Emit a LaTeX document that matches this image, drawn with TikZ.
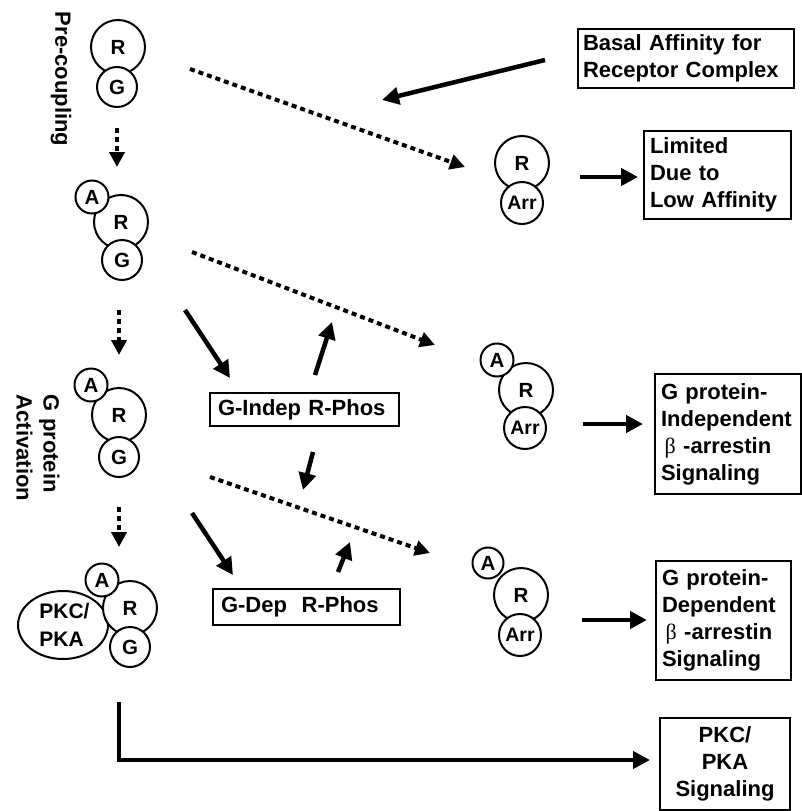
\documentclass[tikz,border=0pt]{standalone}
\usepackage{fontspec}
\setmainfont{Liberation Sans}
\newfontfamily\betafont{Liberation Serif}
\usetikzlibrary{arrows.meta,shapes.geometric}
\begin{document}
\begin{tikzpicture}[x=1pt,y=-1pt,
  bigfont/.style={font=\fontsize{22}{27}\selectfont\bfseries},
  circ/.style={circle,draw,line width=2pt,fill=white,inner sep=0pt,font=\fontsize{20.5}{22}\selectfont\bfseries},
  Rc/.style={circ,minimum size=54pt},
  Ac/.style={circ,minimum size=33pt},
  Gc/.style={circ,minimum size=40pt},
  Arrc/.style={circ,minimum size=42pt,font=\fontsize{19.5}{22}\selectfont\bfseries},
  lbox/.style={draw,line width=2pt,rectangle,bigfont,align=left,inner ysep=0pt,anchor=north west},
  sarrow/.style={line width=4.5pt,-{Triangle[length=17pt,width=17pt]}},
  darrow/.style={line width=4pt,dash pattern=on 5pt off 4pt,-{Triangle[length=15pt,width=15pt]}}
]
\useasboundingbox (0,0) rectangle (802,811);

% rotated labels
\node[bigfont,rotate=-90] (pre) at (61,79) {Pre-coupling};
\node[bigfont,rotate=-90,align=left] (gact) at (38,448) {G protein\\Activation};

% complex 1
\node[Rc] (r1) at (118,47) {R};
\node[Gc] (g1) at (117,87) {G};
% complex 2
\node[Rc] (r2) at (121,222) {R};
\node[Ac] (a2) at (92,197) {A};
\node[Gc] (g2) at (122,260) {G};
% complex 3
\node[Rc] (r3) at (119,415) {R};
\node[Ac] (a3) at (91,385) {A};
\node[Gc] (g3) at (119,457) {G};
% complex 4
\node[ellipse,draw,line width=2pt,fill=white,minimum width=90pt,minimum height=68pt,inner sep=0pt,align=left,font=\fontsize{21}{28}\selectfont\bfseries] (pkc) at (63,625) {\hspace*{3pt}PKC/\\\hspace*{3pt}PKA};
\node[Rc] (r4) at (130,608) {R};
\node[Ac] (a4) at (102,580) {A};
\node[Gc] (g4) at (130,647) {G};

% arrestin complexes
\node[Rc] (rb1) at (522,163) {R};
\node[Arrc] (arr1) at (522,203) {Arr};
\node[Rc] (rb2) at (526,390) {R};
\node[Ac] (ab2) at (497,360) {A};
\node[Arrc] (arr2) at (525,428) {Arr};
\node[Rc] (rb3) at (521,595) {R};
\node[Ac,minimum size=31pt] (ab3) at (488,563) {A};
\node[Arrc] (arr3) at (520,635) {Arr};

% boxes
\node[lbox,minimum width=216pt,minimum height=59pt,text width=206pt,inner xsep=5pt] (basal) at (577,28) {Basal Affinity for\\Receptor Complex};
\node[lbox,minimum width=147pt,minimum height=88pt,text width=135pt,inner xsep=6pt] (lim) at (643,130) {Limited\\Due to\\Low Affinity};
\node[lbox,minimum width=189pt,minimum height=33pt,text width=173pt,inner xsep=8pt] (gind) at (209,392) {G-Indep R-Phos};
\node[lbox,minimum width=187pt,minimum height=36pt,text width=171pt,inner xsep=8pt] (gdep) at (212,588) {G-Dep\ \ R-Phos};
\node[lbox,minimum width=146pt,minimum height=120pt,text width=134pt,inner xsep=6pt] (gpi) at (654,373) {G protein-\\Independent\\{\mdseries\betafont\,β} -arrestin\\Signaling};
\node[lbox,minimum width=135pt,minimum height=119pt,text width=123pt,inner xsep=6pt] (gpd) at (655,560) {G protein-\\Dependent\\{\mdseries\betafont\,β} -arrestin\\Signaling};
\node[lbox,align=center,minimum width=130pt,minimum height=92pt,text width=120pt,inner xsep=5pt] (pkcs) at (659,717) {PKC/\\PKA\\Signaling};

% coordinates for free connector ends
\coordinate (v1s) at (117,128); \coordinate (v1e) at (117,167);
\coordinate (v2s) at (119,310); \coordinate (v2e) at (119,355);
\coordinate (v3s) at (119,507); \coordinate (v3e) at (119,547);
\coordinate (d1s) at (190,69);  \coordinate (d1e) at (465,167);
\coordinate (d2s) at (192,252); \coordinate (d2e) at (435,345);
\coordinate (d3s) at (210,477); \coordinate (d3e) at (430,553);
\coordinate (bs) at (545,60);   \coordinate (be) at (382,100);
\coordinate (l1s) at (580,177); \coordinate (l1e) at (638,177);
\coordinate (l2s) at (583,424); \coordinate (l2e) at (643,424);
\coordinate (l3s) at (582,620); \coordinate (l3e) at (647,620);
\coordinate (p1s) at (185,310); \coordinate (p1e) at (230,378);
\coordinate (p2s) at (315,375); \coordinate (p2e) at (332,322);
\coordinate (p3s) at (313,452); \coordinate (p3e) at (303,490);
\coordinate (p4s) at (192,513); \coordinate (p4e) at (233,575);
\coordinate (p5s) at (338,572); \coordinate (p5e) at (350,542);
\coordinate (ks) at (119,702);  \coordinate (ke) at (650,760);

% dotted arrows
\draw[darrow] (v1s) -- (v1e);
\draw[darrow] (v2s) -- (v2e);
\draw[darrow] (v3s) -- (v3e);
\draw[darrow] (d1s) -- (d1e);
\draw[darrow] (d2s) -- (d2e);
\draw[darrow] (d3s) -- (d3e);

% solid arrows
\draw[sarrow] (bs) -- (be);
\draw[sarrow] (l1s) -- (l1e);
\draw[sarrow] (l2s) -- (l2e);
\draw[sarrow] (l3s) -- (l3e);
\draw[sarrow] (p1s) -- (p1e);
\draw[sarrow] (p2s) -- (p2e);
\draw[sarrow] (p3s) -- (p3e);
\draw[sarrow] (p4s) -- (p4e);
\draw[sarrow] (p5s) -- (p5e);
\draw[sarrow] (ks) |- (ke);
\end{tikzpicture}
\end{document}
